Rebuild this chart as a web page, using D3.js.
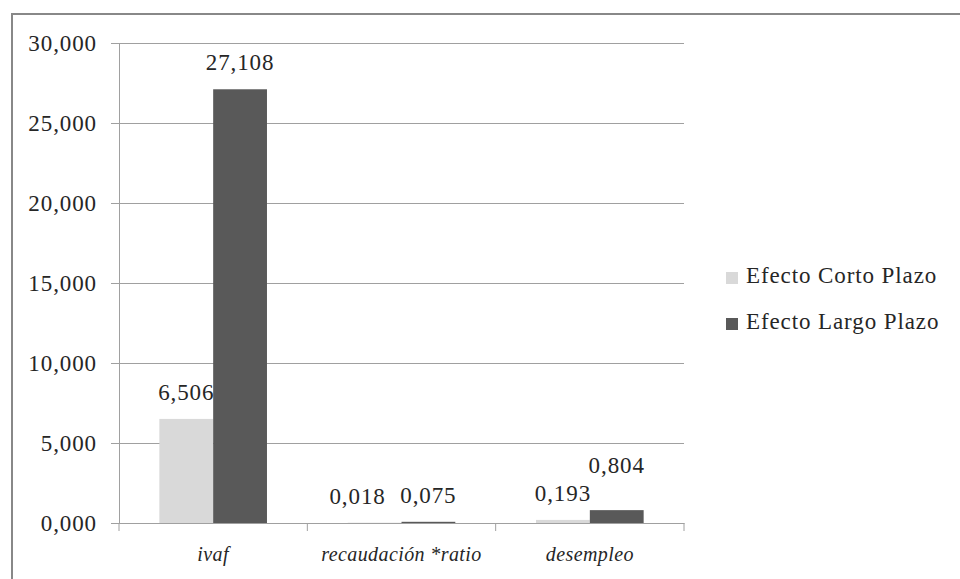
<!DOCTYPE html>
<html>
<head>
<meta charset="utf-8">
<script src="https://cdn.jsdelivr.net/npm/d3@7"></script>
<style>
  html, body { margin: 0; padding: 0; background: #fff; }
  svg { display: block; }
  text { font-family: "Liberation Serif", "Times New Roman", serif; fill: #262626; }
</style>
</head>
<body>
<script>
// Categories and the two series (short- and long-term effect)
const categories = ["ivaf", "recaudación *ratio", "desempleo"];
const seriesNames = ["Efecto Corto Plazo", "Efecto Largo Plazo"];
const cortoPlazo = [6.506, 0.018, 0.193];
const largoPlazo = [27.108, 0.075, 0.804];
const yTicks = [0, 5, 10, 15, 20, 25, 30];

const W = 960, H = 579;
const colors = ["#d9d9d9", "#595959"];
const gridColor = "#a0a0a0";
const fmt = v => d3.format(".3f")(v).replace(".", ",");

const svg = d3.select("body").append("svg").attr("width", W).attr("height", H);

// outer frame
svg.append("rect")
  .attr("x", 12).attr("y", 14).attr("width", W + 20).attr("height", H + 20)
  .attr("fill", "none").attr("stroke", "#888").attr("stroke-width", 2);

const plot = { left: 119, right: 684, top: 43, bottom: 523 };

const x0 = d3.scaleBand().domain(categories).range([plot.left, plot.right]).paddingInner(0).paddingOuter(0);
const x1 = d3.scaleBand().domain(seriesNames).range([0, x0.bandwidth()]).paddingInner(0).paddingOuter(0.75);
const y = d3.scaleLinear().domain([0, 30]).range([plot.bottom, plot.top]);

// horizontal gridlines with tick labels on the left
const yAxis = d3.axisLeft(y).tickValues(yTicks).tickSize(8)
  .tickFormat(v => (v === 0 ? "0" : d3.format(",")(v)) + ",000");
const gy = svg.append("g").attr("transform", `translate(${plot.left},0)`).call(yAxis);
gy.select(".domain").attr("stroke", gridColor);
gy.selectAll(".tick line").attr("stroke", gridColor);
gy.selectAll(".tick").append("line")
  .attr("x1", 0).attr("x2", plot.right - plot.left).attr("stroke", gridColor);
gy.selectAll(".tick text")
  .attr("x", -22).attr("dy", "0.32em")
  .style("font-family", "'Liberation Serif', serif").style("font-size", "23px")
  .style("letter-spacing", "0.9px").style("fill", "#262626");

// category axis
const xAxis = d3.axisBottom(x0).tickSize(0).tickFormat("");
const gx = svg.append("g").attr("transform", `translate(0,${plot.bottom})`).call(xAxis);
gx.select(".domain").attr("stroke", gridColor);
gx.selectAll(".sep").data(d3.range(categories.length + 1)).join("line")
  .attr("class", "sep")
  .attr("x1", i => plot.left + i * x0.bandwidth())
  .attr("x2", i => plot.left + i * x0.bandwidth())
  .attr("y1", 0).attr("y2", 8).attr("stroke", gridColor);
gx.selectAll(".cat").data(categories).join("text")
  .attr("class", "cat")
  .attr("x", d => x0(d) + x0.bandwidth() / 2)
  .attr("y", 38)
  .attr("text-anchor", "middle")
  .style("font-family", "'Liberation Serif', serif")
  .style("font-style", "italic").style("font-size", "20px").style("letter-spacing", "0.4px")
  .text(d => d);

// bars
const rows = categories.map((c, i) => ({ cat: c, vals: [cortoPlazo[i], largoPlazo[i]] }));
const groups = svg.append("g").selectAll("g").data(rows).join("g")
  .attr("transform", d => `translate(${x0(d.cat)},0)`);
groups.selectAll("rect").data(d => d.vals.map((v, k) => ({ k, v }))).join("rect")
  .attr("x", d => x1(seriesNames[d.k]))
  .attr("width", x1.bandwidth())
  .attr("y", d => y(d.v))
  .attr("height", d => plot.bottom - y(d.v))
  .attr("fill", d => colors[d.k]);

// value labels (a few nudged apart so they don't collide)
const nudge = { "1-0": [-17, 0], "2-1": [0, -18] };
groups.each(function(d, ci) {
  d3.select(this).selectAll("text.val").data(d.vals.map((v, k) => ({ k, v }))).join("text")
    .attr("class", "val")
    .attr("x", e => x1(seriesNames[e.k]) + x1.bandwidth() / 2 + (nudge[ci + "-" + e.k] || [0, 0])[0])
    .attr("y", e => y(e.v) - 19 + (nudge[ci + "-" + e.k] || [0, 0])[1])
    .attr("text-anchor", "middle")
    .style("font-size", "23px").style("letter-spacing", "0.9px")
    .text(e => fmt(e.v));
});

// legend
const lg = svg.append("g").attr("transform", "translate(726,272)");
const items = lg.selectAll("g").data(seriesNames).join("g")
  .attr("transform", (d, i) => `translate(0,${i * 46})`);
items.append("rect").attr("width", 12).attr("height", 12).attr("fill", (d, i) => colors[i]);
items.append("text").attr("x", 20).attr("y", 11)
  .style("font-size", "23px").style("letter-spacing", "0.9px")
  .text(d => d);
</script>
</body>
</html>
